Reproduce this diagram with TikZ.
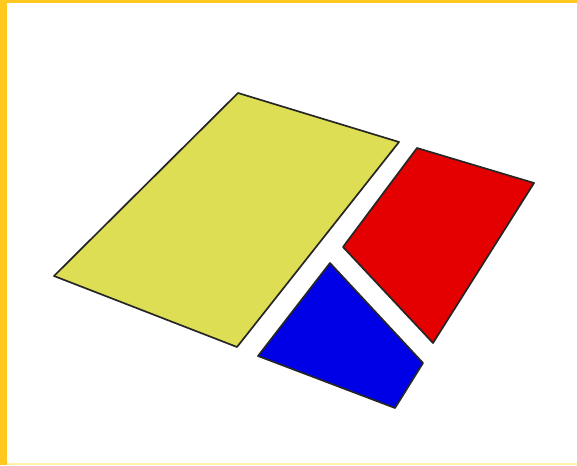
\documentclass[tikz,border=0pt]{standalone}
\definecolor{frameyellow}{RGB}{255,200,30}
\definecolor{palebottom}{RGB}{255,240,170}
\definecolor{plateyellow}{RGB}{222,222,84}
\definecolor{platered}{RGB}{228,0,0}
\definecolor{plateblue}{RGB}{0,0,230}
\begin{document}
\begin{tikzpicture}[x=1pt,y=-1pt,
  plate/.style={draw=black!85,line width=1.7pt,line join=round}]
\useasboundingbox (0,0) rectangle (577,465);
\fill[white] (0,0) rectangle (577,465);
\fill[frameyellow] (0,0) rectangle (7,465);
\fill[frameyellow] (0,0) rectangle (577,3.5);
\fill[palebottom] (7,462.5) rectangle (577,465);
% yellow plate
\coordinate (y1) at (238,93);
\coordinate (y2) at (399,142);
\coordinate (y3) at (237,347);
\coordinate (y4) at (54,276);
\filldraw[plate,fill=plateyellow] (y1) -- (y2) -- (y3) -- (y4) -- cycle;
% red plate
\coordinate (r1) at (417,148);
\coordinate (r2) at (534,183);
\coordinate (r3) at (433,343);
\coordinate (r4) at (343,247);
\filldraw[plate,fill=platered] (r1) -- (r2) -- (r3) -- (r4) -- cycle;
% blue plate
\coordinate (b1) at (330,263);
\coordinate (b2) at (423,363);
\coordinate (b3) at (395,408);
\coordinate (b4) at (258,356);
\filldraw[plate,fill=plateblue] (b1) -- (b2) -- (b3) -- (b4) -- cycle;
\end{tikzpicture}
\end{document}
